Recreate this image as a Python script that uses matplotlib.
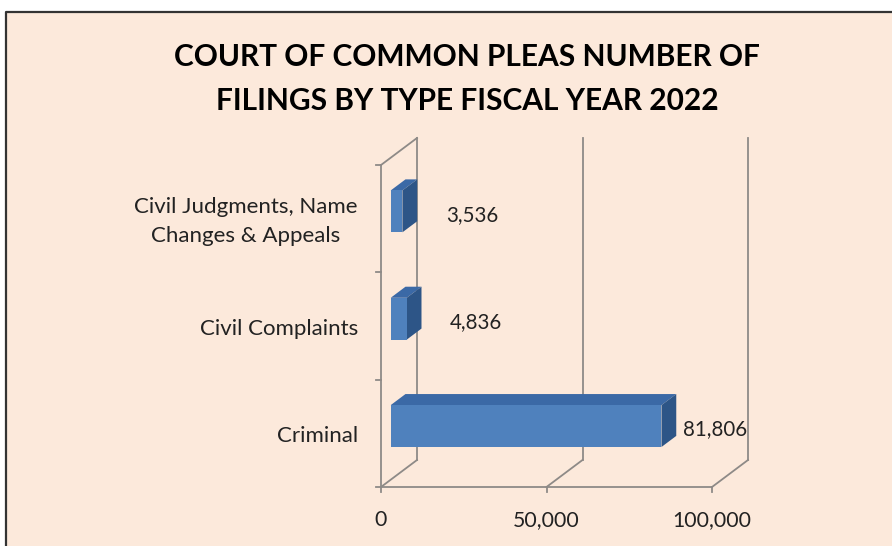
import matplotlib.pyplot as plt
from matplotlib.patches import Polygon, Rectangle
from matplotlib.lines import Line2D

# filings per type, bottom to top as drawn
categories = ["Criminal", "Civil Complaints", "Civil Judgments, Name\nChanges & Appeals"]
filings = [81806, 4836, 3536]
x_ticks = [0, 50000, 100000]
x_tick_labels = ["0", "50,000", "100,000"]

title = "COURT OF COMMON PLEAS NUMBER OF\nFILINGS BY TYPE FISCAL YEAR 2022"

W, H = 892, 546
bg = "#FCE9DB"
grid_col = "#8E8A87"
front_col = "#4F81BD"
top_col = "#3B69A6"
side_col = "#2D5587"
txt_col = "#222222"
font = ["Lato", "DejaVu Sans"]

fig = plt.figure(figsize=(W / 100, H / 100), dpi=100)
fig.patch.set_facecolor(bg)

# white margin above / left of the panel, dark border on the panel's top and left edge
fig.patches.append(Rectangle((0, 1 - 12 / H), 1, 12 / H, transform=fig.transFigure,
                             facecolor="white", edgecolor="none", zorder=-5))
fig.patches.append(Rectangle((0, 0), 6 / W, 1, transform=fig.transFigure,
                             facecolor="white", edgecolor="none", zorder=-5))
fig.lines.append(Line2D([6 / W, 6 / W, 1], [0, 1 - 12 / H, 1 - 12 / H],
                        transform=fig.transFigure, color="#333333", lw=1.6, zorder=-4))

fig.text(467 / W, 1 - 79 / H, title, ha="center", va="center", fontsize=21.5,
         fontweight="bold", family=font, color="black", linespacing=1.7)

# front plane of the 3d box: value 0 at x=381px, 100,000 at 712px, floor at 487px, top at 165px
ax = fig.add_axes([381 / W, (H - 487) / H, 331 / W, 322 / H])
ax.set_xlim(0, 100000)
ax.set_ylim(-0.5, 2.5)
ax.axis("off")

dx = 36 / 331 * 100000   # depth offset of the back wall
dy = 27 / 322 * 3
y0, y1 = -0.5, len(categories) - 0.5


def seg(xs, ys):
    ax.add_line(Line2D(xs, ys, color=grid_col, lw=1.3, clip_on=False, zorder=1))


# walls, floor and axes
seg([0, 0], [y0, y1])
seg([0, dx], [y1, y1 + dy])
seg([0, 100000], [y0, y0])
for t in x_ticks:
    seg([t, t + dx], [y0, y0 + dy])
    seg([t + dx, t + dx], [y0 + dy, y1 + dy])
    seg([t, t], [y0, y0 - 0.05])
for k in range(len(categories) + 1):
    seg([-1500, 0], [y0 + k, y0 + k])

# bars
f0, f1 = 0.27, 0.68
h = 0.195
for i, v in enumerate(filings):
    xa, ya = f0 * dx, i + f0 * dy
    xb, yb = f1 * dx, i + f1 * dy
    ax.add_patch(Polygon([(xa, ya + h), (xa + v, ya + h), (xb + v, yb + h), (xb, yb + h)],
                         closed=True, facecolor=top_col, edgecolor="none", clip_on=False, zorder=3))
    ax.add_patch(Polygon([(xa + v, ya - h), (xa + v, ya + h), (xb + v, yb + h), (xb + v, yb - h)],
                         closed=True, facecolor=side_col, edgecolor="none", clip_on=False, zorder=3))
    ax.add_patch(Rectangle((xa, ya - h), v, 2 * h, facecolor=front_col, edgecolor="none",
                           clip_on=False, zorder=4))
    lx = v + 9500 if v > 50000 else v + 16000
    ax.text(lx, i + 0.035, f"{v:,}", ha="left", va="center", fontsize=14.8,
            family=font, color=txt_col)
    ax.text(-7000, i - 0.025, categories[i], ha="right", va="center", fontsize=16,
            family=font, color=txt_col, multialignment="center", linespacing=1.6)

for t, lab in zip(x_ticks, x_tick_labels):
    ax.text(t, y0 - 0.31, lab, ha="center", va="center", fontsize=15.3,
            family=font, color=txt_col)

fig.savefig("out.png", dpi=100, facecolor=fig.get_facecolor())
